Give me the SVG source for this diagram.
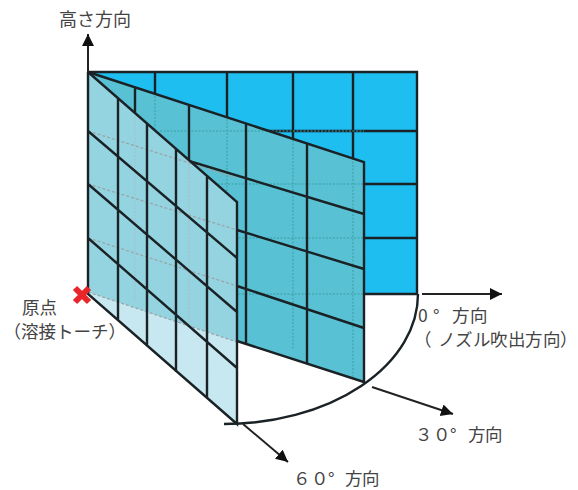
<svg xmlns="http://www.w3.org/2000/svg" width="578" height="490" viewBox="0 0 578 490">
<style>
.l{fill:none;stroke:#1a2226;stroke-width:2.4}
.a{fill:none;stroke:#222;stroke-width:2}
.d{fill:none;stroke:#3a9ca6;stroke-width:1;stroke-dasharray:2 1.5}
.f{fill:none;stroke:#a9bcc0;stroke-width:1;stroke-dasharray:2 1.5}
.g{fill:none;stroke:#9aa5a8;stroke-width:1.3;stroke-dasharray:3 2}
text{font-family:"Noto Sans CJK JP","Liberation Sans",sans-serif;font-size:17.5px;fill:#444}
</style>
<defs><marker id="ah" markerUnits="userSpaceOnUse" markerWidth="14" markerHeight="14" refX="12" refY="6" orient="auto"><path d="M0 0L12 6L0 12Z" fill="#111"/></marker></defs>
<rect width="578" height="490" fill="#fff"/>
<g id="panel-0">
<rect x="88" y="72" width="329" height="222" fill="#1fbef0"/>
<path class="l" d="M88 72H417V294H364M155 72V96M227 72V119M293 72V140M353 72V158M88 131H417M364 184H417M364 238H417"/>
</g>
<g id="panel-30">
<path d="M88 72L364 162V382L88 292Z" fill="#58c2d4"/>
<path class="d" d="M160 131H364M88 184H364M88 238H364M88 294H364M155 96V312M227 119V330M293 140V350M353 158V378"/>
<path class="l" d="M88 72L364 162V382L237 341M135 87V140M189 105V165M246 123V344M307 143V363M189 161L364 214M237 230L364 269M237 286L364 328"/>
</g>
<g id="panel-60">
<path d="M88 72L237 202V424L88 294Z" fill="#94d4e1"/>
<path d="M88 292L237 342V424L88 294Z" fill="#c8e8f1"/>
<path class="g" d="M88 131L237 178M88 184L237 230M88 238L237 286M88 292L237 342"/>
<path class="f" d="M135 113V302M189 160V323"/>
<path class="l" d="M88 72V294L237 424V202L88 72M118 98V320M147 123V346M176 149V372M207 175V398M88 131L237 258M88 184L237 312M88 238L237 368"/>
</g>
<g id="connectors">
<path class="a" d="M88 72V34" marker-end="url(#ah)"/>
<path class="a" d="M422 294H502" marker-end="url(#ah)"/>
<path class="a" d="M372 387L453 414" marker-end="url(#ah)"/>
<path class="a" d="M243 424L288 462" marker-end="url(#ah)"/>
<path class="l" d="M224 424A194 130 0 0 0 418 294"/>
</g>
<g id="origin"><path d="M75 288L89 302M89 288L75 302" stroke="#e8262a" stroke-width="6" fill="none"/><text x="22" y="314">原点</text><text x="3.5" y="338">（溶接トーチ）</text></g>
<g id="labels">
<text x="59" y="26" style="font-size:18px">高さ方向</text>
<text x="418 433 452 470" y="322">0°方向</text>
<text x="414 438 455 473 490 508 525 543 560" y="346">（ノズル吹出方向）</text>
<text x="415 433 450 468 485" y="441">３０°方向</text>
<text x="293 311 328 345 362" y="484.5">６０°方向</text>
</g>
</svg>
